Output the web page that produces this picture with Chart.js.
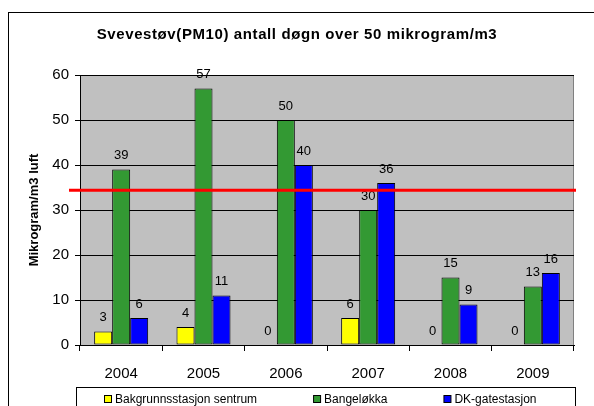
<!DOCTYPE html>
<html>
<head>
<meta charset="utf-8">
<title>Svevestøv PM10</title>
<script src="https://cdn.jsdelivr.net/npm/chart.js@4/dist/chart.umd.min.js"></script>
<style>
  html, body { margin: 0; padding: 0; background: #fff; }
  canvas { display: block; }
</style>
</head>
<body>
<canvas id="chart" width="594" height="406"></canvas>
<script>
// data
const years = ['2004', '2005', '2006', '2007', '2008', '2009'];
const bakgrunn = [3, 4, 0, 6, 0, 0];
const bangelokka = [39, 57, 50, 30, 15, 13];
const dkGate = [6, 11, 40, 36, 9, 16];
const seriesNames = ['Bakgrunnsstasjon sentrum', 'Bangeløkka', 'DK-gatestasjon'];
const seriesColors = ['#FFFF00', '#339933', '#0000FF'];
const yTicks = [0, 10, 20, 30, 40, 50, 60];
const limitValue = 34.4;
const chartTitle = 'Svevestøv(PM10) antall døgn over 50 mikrogram/m3';

const FONT = 'Arial, "Liberation Sans", sans-serif';

// page frame, title + grey plot area
const backdrop = {
    id: 'backdrop',
    beforeDraw(chart) {
        const ctx = chart.ctx;
        const a = chart.chartArea;
        ctx.save();
        ctx.fillStyle = '#fff';
        ctx.fillRect(0, 0, chart.width, chart.height);
        ctx.strokeStyle = '#000';
        ctx.lineWidth = 1;
        ctx.strokeRect(8.5, 12.5, 700, 500);
        ctx.fillStyle = '#C0C0C0';
        ctx.fillRect(a.left, a.top, a.right - a.left, a.bottom - a.top);
        ctx.strokeStyle = '#808080';
        ctx.beginPath();
        ctx.moveTo(a.left, a.top + 0.5);
        ctx.lineTo(a.right - 0.5, a.top + 0.5);
        ctx.lineTo(a.right - 0.5, a.bottom);
        ctx.stroke();

        // title (excel spreads the letters a bit)
        ctx.fillStyle = '#000';
        ctx.font = 'bold 15px ' + FONT;
        ctx.letterSpacing = '0.6px';
        ctx.textAlign = 'center';
        ctx.textBaseline = 'middle';
        ctx.fillText(chartTitle, 297, 35);
        ctx.letterSpacing = '0px';
        ctx.restore();
    }
};

// value labels above bars + red limit line
const extras = {
    id: 'extras',
    afterDatasetsDraw(chart) {
        const ctx = chart.ctx;
        ctx.save();
        ctx.font = '13px ' + FONT;
        ctx.fillStyle = '#000';
        ctx.textAlign = 'center';
        ctx.textBaseline = 'middle';
        chart.data.datasets.forEach((ds, i) => {
            chart.getDatasetMeta(i).data.forEach((bar, j) => {
                ctx.fillText(String(ds.data[j]), bar.x, bar.y - 14);
            });
        });
        const y = chart.scales.y.getPixelForValue(limitValue);
        ctx.strokeStyle = '#FF0000';
        ctx.lineWidth = 3;
        ctx.beginPath();
        ctx.moveTo(chart.chartArea.left - 11, y);
        ctx.lineTo(chart.chartArea.right + 2, y);
        ctx.stroke();
        ctx.restore();
    }
};

// excel style boxed legend at the bottom
const boxLegend = {
    id: 'boxLegend',
    afterDraw(chart) {
        const ctx = chart.ctx;
        ctx.save();
        ctx.fillStyle = '#fff';
        ctx.strokeStyle = '#000';
        ctx.lineWidth = 1;
        ctx.fillRect(76.5, 387.5, 499, 30);
        ctx.strokeRect(76.5, 387.5, 499, 30);
        ctx.font = '12px ' + FONT;
        ctx.textBaseline = 'middle';
        let x = 104;
        chart.data.datasets.forEach((ds) => {
            ctx.fillStyle = ds.backgroundColor;
            ctx.fillRect(x + 0.5, 395.5, 7, 7);
            ctx.strokeRect(x + 0.5, 395.5, 7, 7);
            ctx.fillStyle = '#000';
            ctx.fillText(ds.label, x + 11, 399.5);
            x += 11 + ctx.measureText(ds.label).width + 56;
        });
        ctx.restore();
    }
};

new Chart(document.getElementById('chart'), {
    type: 'bar',
    data: {
        labels: years,
        datasets: [
            { label: seriesNames[0], data: bakgrunn, backgroundColor: seriesColors[0] },
            { label: seriesNames[1], data: bangelokka, backgroundColor: seriesColors[1] },
            { label: seriesNames[2], data: dkGate, backgroundColor: seriesColors[2] }
        ].map(d => Object.assign(d, {
            borderColor: '#000',
            borderWidth: 1,
            borderSkipped: false,
            categoryPercentage: 0.656,
            barPercentage: 1
        }))
    },
    options: {
        responsive: false,
        animation: false,
        devicePixelRatio: 1,
        layout: { padding: { left: 8, right: 20, top: 75, bottom: 19 } },
        plugins: {
            legend: { display: false },
            tooltip: { enabled: false },
            title: { display: false }
        },
        scales: {
            x: {
                grid: { offset: true, drawOnChartArea: false, color: '#000', tickLength: 6 },
                border: { color: '#000' },
                ticks: { color: '#000', font: { family: FONT, size: 15 }, padding: 14 },
                afterFit(s) { s.height = 42; }
            },
            y: {
                min: 0,
                max: 60,
                afterBuildTicks(s) { s.ticks = yTicks.map(v => ({ value: v })); },
                grid: { color: '#000', tickLength: 5 },
                border: { color: '#000' },
                ticks: { color: '#000', font: { family: FONT, size: 15 }, padding: 6 },
                title: {
                    display: true,
                    text: 'Mikrogram/m3 luft',
                    color: '#000',
                    font: { family: FONT, size: 13, weight: 'bold' },
                    padding: { top: 19, bottom: 0 }
                },
                afterFit(s) { s.width = 72; }
            }
        }
    },
    plugins: [backdrop, extras, boxLegend]
});
</script>
</body>
</html>
